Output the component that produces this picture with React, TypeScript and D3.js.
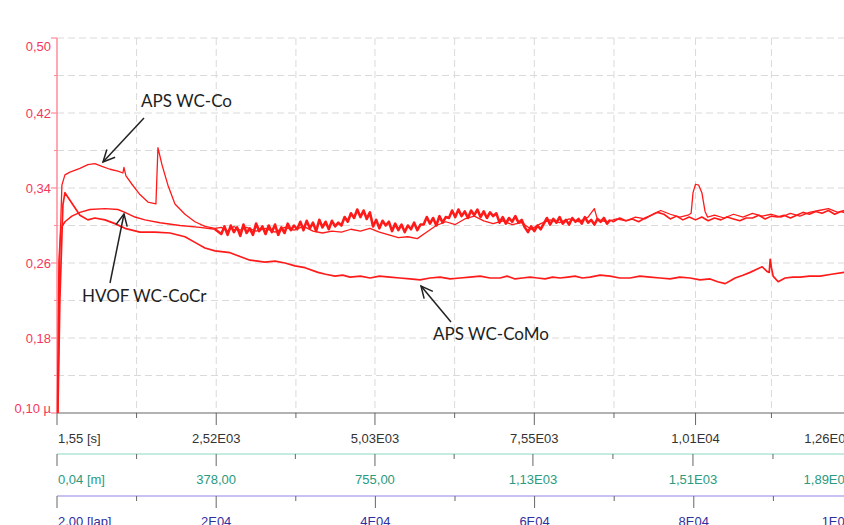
import React from "react";
import * as d3 from "d3";

// ---------- axis ticks ----------
const yTickVals = [0.1, 0.18, 0.26, 0.34, 0.42, 0.5];
const yTickLabels = ["0,10 µ", "0,18", "0,26", "0,34", "0,42", "0,50"];
const yMinorVals = [0.14, 0.22, 0.3, 0.38, 0.46];

const timeTickVals = [1.55, 2520, 5030, 7550, 10100, 12600];
const timeTickLabels = ["1,55 [s]", "2,52E03", "5,03E03", "7,55E03", "1,01E04", "1,26E04"];
const timeMinorVals = [1260, 3780, 6290, 8810, 11300];

const distTickVals = [0.04, 378, 755, 1130, 1510, 1890];
const distTickLabels = ["0,04 [m]", "378,00", "755,00", "1,13E03", "1,51E03", "1,89E03"];
const distMinorVals = [189, 566, 943, 1320, 1700];

const lapTickVals = [2, 20000, 40000, 60000, 80000, 100000];
const lapTickLabels = ["2,00 [lap]", "2E04", "4E04", "6E04", "8E04", "1E05"];
const lapMinorVals = [10000, 30000, 50000, 70000, 90000];

// ---------- series: [time s, friction coefficient] ----------
const apsWcCo: [number, number][] = [
  [16, 0.1], [47, 0.274], [79, 0.343], [127, 0.354], [206, 0.357], [364, 0.361], [490, 0.365],
  [600, 0.366], [712, 0.363], [838, 0.36], [965, 0.358], [1044, 0.356], [1060, 0.362], [1092, 0.353],
  [1187, 0.344], [1313, 0.333], [1440, 0.325], [1566, 0.323], [1598, 0.383], [1661, 0.365],
  [1756, 0.343], [1867, 0.323], [2025, 0.312], [2183, 0.304], [2341, 0.299], [2500, 0.297],
  [2600, 0.298], [2700, 0.294], [2800, 0.299], [2900, 0.295], [3000, 0.298], [3150, 0.294],
  [3300, 0.297], [3450, 0.293], [3600, 0.298], [3750, 0.295], [3900, 0.299], [4050, 0.294],
  [4200, 0.292], [4350, 0.294], [4500, 0.293], [4650, 0.296], [4800, 0.294], [4950, 0.297],
  [5100, 0.293], [5250, 0.29], [5400, 0.287], [5550, 0.288], [5700, 0.286], [5850, 0.293],
  [6000, 0.3], [6150, 0.304], [6300, 0.301], [6450, 0.307], [6600, 0.31], [6750, 0.305],
  [6900, 0.302], [7050, 0.305], [7200, 0.301], [7350, 0.303], [7500, 0.296], [7650, 0.302],
  [7800, 0.306], [7950, 0.303], [8100, 0.307], [8250, 0.304], [8400, 0.309], [8500, 0.318],
  [8550, 0.306], [8700, 0.304], [8850, 0.307], [9000, 0.305], [9150, 0.309], [9300, 0.307],
  [9450, 0.313], [9550, 0.316], [9700, 0.312], [9850, 0.309], [9980, 0.311], [10030, 0.313],
  [10060, 0.335], [10100, 0.344], [10150, 0.343], [10200, 0.335], [10250, 0.315], [10290, 0.309],
  [10400, 0.311], [10550, 0.308], [10700, 0.312], [10850, 0.309], [11000, 0.313], [11150, 0.31],
  [11300, 0.312], [11450, 0.309], [11600, 0.313], [11750, 0.31], [11900, 0.314], [12050, 0.316],
  [12200, 0.318], [12350, 0.314], [12500, 0.317], [12600, 0.315],
];

const hvofEarly: [number, number][] = [
  [8, 0.1], [32, 0.263], [63, 0.297], [127, 0.304], [237, 0.31], [364, 0.314], [522, 0.317],
  [760, 0.318], [965, 0.317], [1076, 0.314], [1234, 0.309], [1392, 0.306], [1630, 0.303],
  [1946, 0.3], [2262, 0.298], [2500, 0.296],
];
// noisy part, sampled every 50 s from 2600 s
const hvofNoisyStart = 2600;
const hvofNoisyStep = 50;
const hvofNoisy = [
  0.291, 0.299, 0.29, 0.3, 0.293, 0.298, 0.289, 0.301, 0.292, 0.297, 0.29, 0.302, 0.294, 0.299, 0.291, 0.3,
  0.293, 0.301, 0.29, 0.298, 0.292, 0.302, 0.295, 0.3,
  0.296, 0.304, 0.295, 0.305, 0.297, 0.303, 0.294, 0.306, 0.298, 0.304, 0.296, 0.305, 0.299, 0.303,
  0.3, 0.309, 0.304, 0.313,
  0.308, 0.317, 0.309, 0.316, 0.307, 0.314,
  0.299, 0.306, 0.297, 0.305, 0.3, 0.304,
  0.294, 0.302, 0.295, 0.301, 0.293, 0.3, 0.296, 0.303, 0.295, 0.301,
  0.301, 0.309, 0.302, 0.308, 0.3, 0.31, 0.303, 0.309,
  0.308, 0.316, 0.309, 0.317, 0.31, 0.315, 0.308, 0.316, 0.311, 0.317, 0.309, 0.315, 0.308, 0.314, 0.31, 0.313,
  0.303, 0.309, 0.302, 0.308, 0.304, 0.31, 0.303, 0.306,
  0.298, 0.293, 0.299, 0.294, 0.3, 0.296,
  0.302, 0.308, 0.301, 0.307, 0.303, 0.309, 0.302, 0.306, 0.301, 0.308, 0.304, 0.307, 0.302, 0.309,
  0.303, 0.306, 0.301, 0.307, 0.304, 0.308, 0.302, 0.306,
];
// calmer tail, sampled every 100 s from 8800 s
const hvofTailStart = 8800;
const hvofTailStep = 100;
const hvofTail = [
  0.304, 0.308, 0.305, 0.307, 0.304, 0.308,
  0.311, 0.314, 0.312,
  0.307, 0.31, 0.306, 0.309,
  0.306, 0.309, 0.305, 0.308, 0.306, 0.309, 0.307, 0.305, 0.308,
  0.308, 0.311, 0.307, 0.31, 0.309, 0.311, 0.308,
  0.311, 0.314, 0.312, 0.315, 0.313, 0.316, 0.312, 0.315, 0.313, 0.314,
];

const apsWcCoMo: [number, number][] = [
  [16, 0.1], [47, 0.22], [95, 0.322], [127, 0.335], [206, 0.327], [285, 0.319], [364, 0.311],
  [490, 0.306], [600, 0.308], [760, 0.306], [918, 0.302], [1076, 0.297], [1313, 0.293],
  [1550, 0.293], [1788, 0.292], [2025, 0.288], [2183, 0.282], [2341, 0.276], [2500, 0.273],
  [2737, 0.271], [2895, 0.267], [3053, 0.263], [3290, 0.261], [3450, 0.262], [3607, 0.26],
  [3765, 0.257], [3923, 0.255], [4129, 0.25], [4250, 0.248], [4398, 0.246], [4520, 0.247],
  [4635, 0.245], [4800, 0.246], [4952, 0.244], [5100, 0.246], [5268, 0.245], [5420, 0.244],
  [5584, 0.243], [5743, 0.242], [5900, 0.244], [6059, 0.245], [6220, 0.243], [6375, 0.244],
  [6530, 0.245], [6692, 0.246], [6850, 0.244], [7008, 0.244], [7120, 0.246], [7245, 0.243],
  [7360, 0.244], [7483, 0.245], [7600, 0.244], [7720, 0.243], [7840, 0.245], [7957, 0.244],
  [8080, 0.245], [8195, 0.246], [8310, 0.244], [8432, 0.245], [8590, 0.247], [8748, 0.246],
  [8900, 0.244], [9065, 0.244], [9220, 0.246], [9381, 0.245], [9540, 0.244], [9697, 0.243],
  [9850, 0.245], [10014, 0.244], [10170, 0.242], [10330, 0.243], [10450, 0.24], [10568, 0.238],
  [10650, 0.241], [10726, 0.244], [10850, 0.247], [10963, 0.25], [11060, 0.253], [11153, 0.256],
  [11230, 0.251], [11265, 0.25], [11280, 0.264], [11300, 0.255], [11327, 0.246], [11406, 0.24],
  [11517, 0.244], [11640, 0.245], [11754, 0.245], [11900, 0.246], [12070, 0.246], [12250, 0.248],
  [12450, 0.25], [12600, 0.251],
];

// ---------- layout ----------
const W = 844;
const H = 525;
const X0 = 57;
const X1 = 853;
const Y_TOP = 38;
const Y_BOT = 413;
const DIST_Y = 454;
const LAP_Y = 496;

const RED = "#ff1a1a";
const Y_LABEL = "#f5365c";
const Y_AXIS = "#ff8a98";
const GRID = "#dadada";

export default function App() {
  const x = d3.scaleLinear().domain([1.55, 12590]).range([X0, X1]);
  const xDist = d3.scaleLinear().domain([0.04, 1890]).range([X0, X1]);
  const xLap = d3.scaleLinear().domain([2, 100000]).range([X0, X1]);
  const y = d3.scaleLinear().domain([0.1, 0.5]).range([Y_BOT, Y_TOP]);

  const line = d3
    .line<[number, number]>()
    .x((d) => x(d[0]))
    .y((d) => y(d[1]));

  const hvofNoisyPts: [number, number][] = [
    hvofEarly[hvofEarly.length - 1],
    ...hvofNoisy.map((v, i) => [hvofNoisyStart + i * hvofNoisyStep, v] as [number, number]),
  ];
  const hvofTailPts: [number, number][] = [
    hvofNoisyPts[hvofNoisyPts.length - 1],
    ...hvofTail.map((v, i) => [hvofTailStart + i * hvofTailStep, v] as [number, number]),
  ];

  const font = "'Liberation Sans', Arial, sans-serif";
  const annFont = "Lato, 'Open Sans', sans-serif";

  const xAxis = (
    scale: d3.ScaleLinear<number, number>,
    yPos: number,
    vals: number[],
    labels: string[],
    minor: number[],
    lineColor: string,
    textColor: string,
    key: string
  ) => (
    <g key={key}>
      <line x1={X0} x2={W} y1={yPos} y2={yPos} stroke={lineColor} strokeWidth={1.2} />
      {vals.map((v, i) => (
        <line key={"M" + i} x1={scale(v)} x2={scale(v)} y1={yPos} y2={yPos + 12} stroke="#666" strokeWidth={1} />
      ))}
      {minor.map((v, i) => (
        <line key={"m" + i} x1={scale(v)} x2={scale(v)} y1={yPos} y2={yPos + 5} stroke="#666" strokeWidth={1} />
      ))}
      {vals.map((v, i) => {
        const first = i === 0;
        const last = i === vals.length - 1;
        return (
          <text
            key={"t" + i}
            x={first ? scale(v) + 1 : last ? scale(v) - 1 : scale(v)}
            y={yPos + 29.5}
            textAnchor={first ? "start" : last ? "end" : "middle"}
            fill={textColor}
            fontFamily={font}
            fontSize={13}
          >
            {labels[i]}
          </text>
        );
      })}
    </g>
  );

  const arrowHead = (fx: number, fy: number, tx: number, ty: number) => {
    const ang = Math.atan2(ty - fy, tx - fx);
    const len = 13;
    const spread = 0.45;
    const p1 = [tx - len * Math.cos(ang - spread), ty - len * Math.sin(ang - spread)];
    const p2 = [tx - len * Math.cos(ang + spread), ty - len * Math.sin(ang + spread)];
    return `M${p1[0]},${p1[1]} L${tx},${ty} L${p2[0]},${p2[1]}`;
  };

  const arrows = [
    { fx: 144, fy: 118, tx: 103, ty: 162 },
    { fx: 110, fy: 283, tx: 124, ty: 214 },
    { fx: 451, fy: 322, tx: 421, ty: 286 },
  ];

  return (
    <svg
      width={W}
      height={H}
      style={{ position: "absolute", left: 0, top: 0, background: "#fff" }}
    >
      <rect x={0} y={0} width={W} height={H} fill="#fff" />
      {/* grid */}
      {[...yMinorVals, ...yTickVals.slice(1)].map((v, i) => (
        <line key={"gy" + i} x1={X0} x2={W} y1={y(v)} y2={y(v)} stroke={GRID} strokeWidth={1} strokeDasharray="7,4" />
      ))}
      {[...timeMinorVals, ...timeTickVals.slice(1)].map((v, i) => (
        <line key={"gx" + i} x1={x(v)} x2={x(v)} y1={Y_TOP} y2={Y_BOT} stroke={GRID} strokeWidth={1} strokeDasharray="7,4" />
      ))}

      {/* y axis */}
      <line x1={X0} x2={X0} y1={Y_TOP} y2={Y_BOT} stroke={Y_AXIS} strokeWidth={1.5} />
      {yTickVals.map((v, i) => (
        <line key={"yt" + i} x1={X0 - 6} x2={X0} y1={y(v)} y2={y(v)} stroke={Y_AXIS} strokeWidth={1.2} />
      ))}
      {yMinorVals.map((v, i) => (
        <line key={"ym" + i} x1={X0 - 3} x2={X0} y1={y(v)} y2={y(v)} stroke={Y_AXIS} strokeWidth={1} />
      ))}
      {yTickVals.map((v, i) => (
        <text
          key={"yl" + i}
          x={51}
          y={Math.min(Math.max(y(v), 46), 408)}
          dy="0.35em"
          textAnchor="end"
          fill={Y_LABEL}
          fontFamily={font}
          fontSize={13}
        >
          {yTickLabels[i]}
        </text>
      ))}

      {/* x axes */}
      {xAxis(x, Y_BOT, timeTickVals, timeTickLabels, timeMinorVals, "#666", "#333", "time")}
      {xAxis(xDist, DIST_Y, distTickVals, distTickLabels, distMinorVals, "#8ed8c4", "#2a9a80", "dist")}
      {xAxis(xLap, LAP_Y, lapTickVals, lapTickLabels, lapMinorVals, "#8f86e6", "#2f2fa0", "lap")}

      {/* series */}
      <g fill="none" stroke={RED} strokeLinejoin="round">
        <path d={line(apsWcCoMo) || ""} strokeWidth={1.7} />
        <path d={line(apsWcCo) || ""} strokeWidth={1.3} />
        <path d={line(hvofEarly) || ""} strokeWidth={1.5} />
        <path d={line(hvofNoisyPts) || ""} strokeWidth={2.6} />
        <path d={line(hvofTailPts) || ""} strokeWidth={1.6} />
      </g>

      {/* annotations */}
      <g stroke="#222" strokeWidth={1.5} fill="none">
        {arrows.map((a, i) => (
          <g key={"ar" + i}>
            <line x1={a.fx} y1={a.fy} x2={a.tx} y2={a.ty} />
            <path d={arrowHead(a.fx, a.fy, a.tx, a.ty)} />
          </g>
        ))}
      </g>
      <g fill="#1e1e1e" fontFamily={annFont} fontSize={17}>
        <text x={141} y={107}>APS WC-Co</text>
        <text x={82} y={302}>HVOF WC-CoCr</text>
        <text x={433} y={340}>APS WC-CoMo</text>
      </g>
    </svg>
  );
}
